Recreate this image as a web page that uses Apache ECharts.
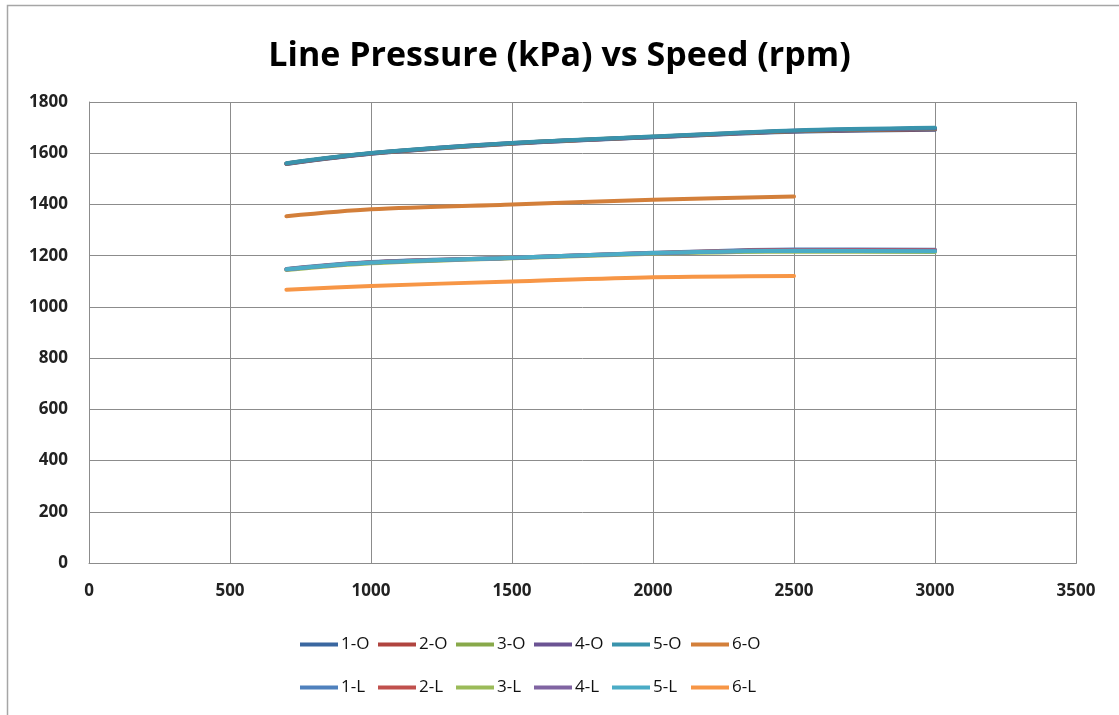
<!DOCTYPE html>
<html>
<head>
<meta charset="utf-8">
<script src="https://cdn.jsdelivr.net/npm/echarts@6/dist/echarts.min.js"></script>
<style>
html,body{margin:0;padding:0;background:#fff;}
#c{width:1119px;height:715px;}
</style>
</head>
<body>
<div id="c"></div>
<script>
const speeds = [700, 1000, 1500, 2000, 2500, 3000];
const speeds6 = [700, 1000, 1500, 2000, 2500];
const seriesNames = ['1-O','2-O','3-O','4-O','5-O','6-O','1-L','2-L','3-L','4-L','5-L','6-L'];
const v1O = [1558, 1598, 1637, 1662, 1684, 1692];
const v2O = [1559, 1599, 1638, 1663, 1686, 1694];
const v3O = [1560, 1600, 1639, 1664, 1687, 1696];
const v4O = [1560, 1600, 1640, 1664, 1688, 1697];
const v5O = [1561, 1601, 1640, 1665, 1689, 1699];
const v6O = [1354, 1381, 1400, 1418, 1431];
const v1L = [1148, 1175, 1192, 1211, 1224, 1223];
const v2L = [1147, 1174, 1192, 1210, 1222, 1221];
const v3L = [1144, 1170, 1190, 1207, 1216, 1214];
const v4L = [1146, 1173, 1191, 1209, 1220, 1219];
const v5L = [1147, 1173, 1192, 1210, 1219, 1217];
const v6L = [1067, 1082, 1099, 1116, 1121];
const xTicks = [0, 500, 1000, 1500, 2000, 2500, 3000, 3500];
const yTicks = [0, 200, 400, 600, 800, 1000, 1200, 1400, 1600, 1800];

const colors = ['#3a67a0','#b0443f','#88a94a','#6b5393','#3993ac','#d37f3a',
                '#4f81bd','#c0504d','#9bbb59','#8064a2','#4bacc6','#f79646'];
const values = [v1O,v2O,v3O,v4O,v5O,v6O,v1L,v2L,v3L,v4L,v5L,v6L];
const xs = [speeds,speeds,speeds,speeds,speeds,speeds6,speeds,speeds,speeds,speeds,speeds,speeds6];

const font = "'Open Sans', 'Liberation Sans', sans-serif";
const chart = echarts.init(document.getElementById('c'), null, {renderer:'canvas'});
const series = seriesNames.map((n,i)=>({
  name:n, type:'line', smooth:0.3, symbol:'none',
  data: xs[i].map((x,j)=>[x, values[i][j]]),
  lineStyle:{width:4, color:colors[i], cap:'round'},
  itemStyle:{color:colors[i]},
  z: 2 + i
}));
const legendLefts = [300, 378, 456, 534, 612, 691];
const legendTops = [636, 679];
const legends = seriesNames.map((n,i)=>({
  left: legendLefts[i % 6], top: legendTops[Math.floor(i / 6)],
  itemWidth: 38, itemHeight: 4, icon: 'rect', padding: 0,
  data: [n],
  textStyle:{fontFamily:font, fontSize:17, color:'#111', padding:[0,0,0,-2]}
}));
chart.setOption({
  animation:false,
  backgroundColor:'#fff',
  color: colors,
  title:{text:'Line Pressure (kPa) vs Speed (rpm)', left:'center', top:34,
    textStyle:{fontFamily:font, fontSize:34, fontWeight:'bold', color:'#000'}},
  grid:{left:89, right:43, top:102, bottom:152, show:false},
  xAxis:{type:'value', min:0, max:3500, interval:500,
    axisLine:{show:true, lineStyle:{color:'#8c8c8c', width:1}},
    axisTick:{show:false},
    splitLine:{show:true, lineStyle:{color:'#8c8c8c', width:1}},
    axisLabel:{fontFamily:font, fontSize:17, fontWeight:'bold', color:'#222', margin:20,
      formatter: v => String(v)}},
  yAxis:{type:'value', min:0, max:1800, interval:200,
    axisLine:{show:true, lineStyle:{color:'#8c8c8c', width:1}},
    axisTick:{show:false},
    splitLine:{show:true, lineStyle:{color:'#8c8c8c', width:1}},
    axisLabel:{fontFamily:font, fontSize:17, fontWeight:'bold', color:'#222', margin:21,
      formatter: v => String(v)}},
  legend: legends,
  graphic:[
    {type:'rect', shape:{x:7.5, y:5.5, width:1125, height:720}, style:{fill:'none', stroke:'#a6a6a6', lineWidth:1.5}, silent:true},
    {type:'rect', shape:{x:1076.5, y:102.5, width:0, height:461}, style:{fill:'none', stroke:'#8c8c8c', lineWidth:1}, silent:true}
  ],
  series: series
});
</script>
</body>
</html>
